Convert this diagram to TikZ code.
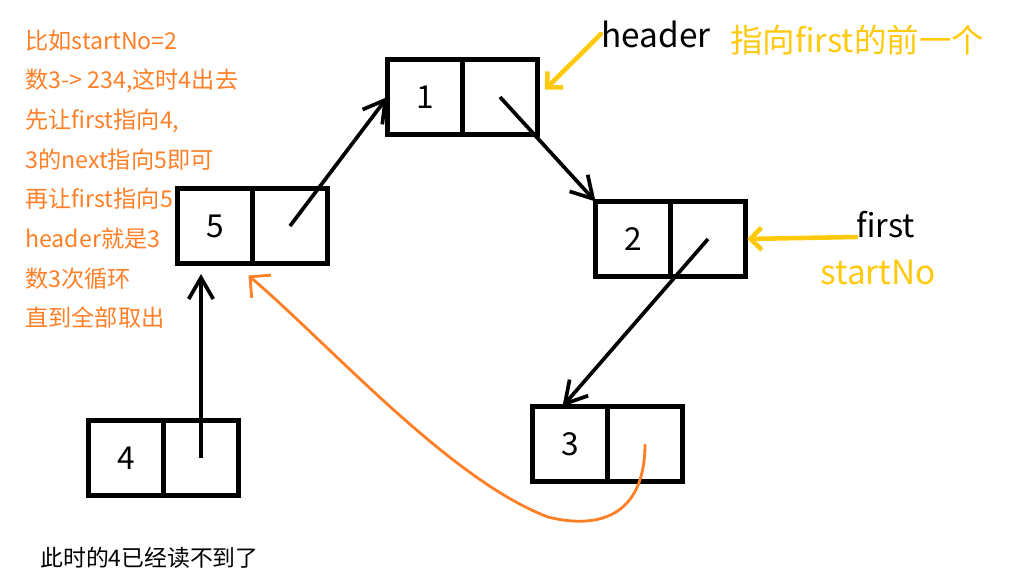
\documentclass[tikz,border=0pt]{standalone}
\usepackage{fontspec}
\setmainfont{Noto Sans CJK SC}
\usetikzlibrary{positioning, arrows.meta, calc}
\definecolor{paintorange}{RGB}{255,127,39}
\definecolor{paintgold}{RGB}{255,201,14}

\tikzset{
  cell/.style={draw=black, line width=2.3pt, minimum width=1.5cm, minimum height=1.5cm, inner sep=0pt, outer sep=0pt, font=\fontsize{18}{18}\selectfont},
  link/.style={draw=black, line width=2.1pt, -{Straight Barb[angle=60:14pt]}},
  hint/.style={draw=paintgold, line width=2.6pt, line cap=round, -{Straight Barb[angle=90:9pt]}},
  skip/.style={draw=paintorange, line width=1.6pt, -{Straight Barb[angle=90:12pt]}},
  note/.style={anchor=base west, inner sep=0pt, text=paintorange, font=\fontsize{13.2}{13.2}\selectfont},
}

\begin{document}
\begin{tikzpicture}[x=0.02cm, y=-0.02cm]
\useasboundingbox (0,0) rectangle (1011,586);
% list cells
\node[cell] (node_1) at (425,97) {1};
\node[cell, right=0pt of node_1] (next_1) {};
\node[cell] (node_2) at (633,239) {2};
\node[cell, right=0pt of node_2] (next_2) {};
\node[cell] (node_3) at (570,444) {3};
\node[cell, right=0pt of node_3] (next_3) {};
\node[cell] (node_4) at (126,458) {4};
\node[cell, right=0pt of node_4] (next_4) {};
\node[cell] (node_5) at (215,226) {5};
\node[cell, right=0pt of node_5] (next_5) {};
% labels
\node[anchor=base west, inner sep=0pt, font=\fontsize{19}{19}\selectfont] (header) at (601,47) {header};
\node[anchor=base west, inner sep=0pt, text=paintgold, font=\fontsize{18.5}{18.5}\selectfont] (header_note) at (730,52) {指向first的前一个};
\node[anchor=base west, inner sep=0pt, font=\fontsize{18.5}{18.5}\selectfont] (first) at (856,237) {first};
\node[anchor=base west, inner sep=0pt, text=paintgold, font=\fontsize{19}{19}\selectfont] (start_no) at (820,284) {startNo};
\foreach \line [count=\i] in {{比如startNo=2}, {数3-> 234,这时4出去}, {先让first指向4,}, {3的next指向5即可}, {再让first指向5}, {header就是3}, {数3次循环}, {直到全部取出}}
  \node[note] (note_\i) at (25,{49+39.7*(\i-1)}) {\line};
\node[anchor=base west, inner sep=0pt, font=\fontsize{13}{13}\selectfont] (lost_note) at (40,566) {此时的4已经读不到了};
\coordinate (skip_end) at ($(node_5.south east)+(-4,12)$);
% pointers
\draw[link] (next_5.center) -- (node_1.west);
\draw[link] (next_1.center) -- (node_2.north west);
\draw[link] (next_2.center) -- ($(node_3.north west)!.8!(node_3.north)$);
\draw[link, shorten >=6pt] (next_4.center) -- (next_4.center |- node_5.south);
\draw[hint, shorten >=6pt] (header.west) -- (next_1.east);
\draw[hint, shorten >=1pt] (first.base west) -- (next_2.east);
\draw[skip] (next_3.center) .. controls (645,515) and (600,530) .. (548,517) .. controls (450,480) and (330,345) .. (skip_end);
\end{tikzpicture}
\end{document}
